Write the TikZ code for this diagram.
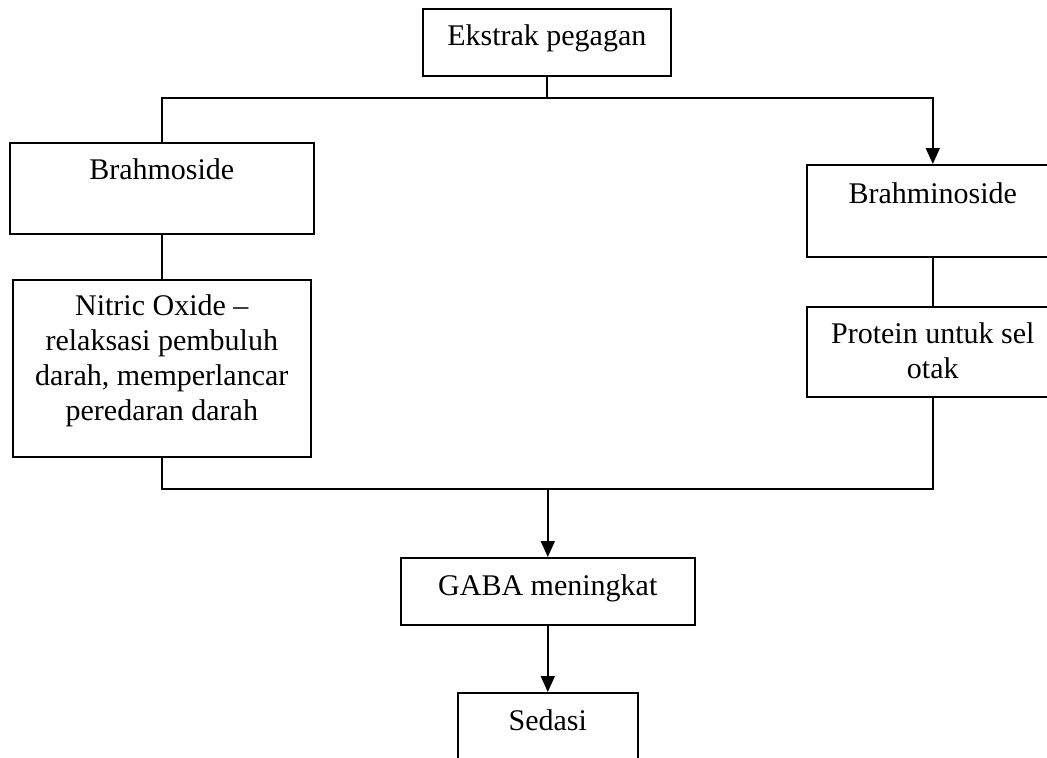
\documentclass[tikz,border=0pt]{standalone}
\usepackage{fontspec}
\setmainfont{Liberation Serif}
\usetikzlibrary{arrows.meta}

\begin{document}
\begin{tikzpicture}[x=0.5pt,y=-0.5pt,
    box/.style={draw,line width=0.8pt,inner xsep=0pt,inner ysep=0pt,
      anchor=north west,align=center,
      font=\fontsize{15}{17.5}\selectfont},
    link/.style={line width=0.8pt},
    flow/.style={line width=0.8pt,-{Triangle[length=8pt,width=7pt]}}]
  \useasboundingbox (0,0) rectangle (1047,757);
  \clip (0,0) rectangle (1047,757);
  % boxes
  \node[box,minimum width=124pt,text height=18.5pt,text depth=15pt]
    (ekstrak) at (422,8) {Ekstrak pegagan};
  \node[box,minimum width=152pt,text height=18.5pt,text depth=27pt]
    (brahmo) at (9,142) {Brahmoside};
  \node[box,minimum width=126pt,text height=19.5pt,text depth=26.5pt]
    (brahmino) at (806,164) {Brahminoside};
  \node[box,minimum width=149pt,text height=70.5pt,text depth=18pt]
    (nitric) at (12,279) {Nitric Oxide --\\relaksasi pembuluh\\darah, memperlancar\\peredaran darah};
  \node[box,minimum width=126pt,text height=36pt,text depth=9pt]
    (protein) at (806,306) {Protein untuk sel\\otak};
  \node[box,minimum width=147pt,text height=19pt,text depth=14.5pt]
    (gaba) at (400,557) {GABA meningkat};
  \node[box,minimum width=90pt,text height=19pt,text depth=25pt]
    (sedasi) at (457,692) {Sedasi};
  % junctions
  \coordinate (split) at (ekstrak.south |- 0,98);
  \coordinate (merge) at (gaba.north |- 0,489);
  % connectors
  \draw[link] (ekstrak.south) -- (split);
  \draw[link] (split) -| (brahmo.north);
  \draw[flow] (split) -| (brahmino.north);
  \draw[link] (brahmo.south) -- (nitric.north);
  \draw[link] (brahmino.south) -- (protein.north);
  \draw[link] (nitric.south) |- (merge) -| (protein.south);
  \draw[flow] (merge) -- (gaba.north);
  \draw[flow] (gaba.south) -- (sedasi.north);
\end{tikzpicture}
\end{document}
